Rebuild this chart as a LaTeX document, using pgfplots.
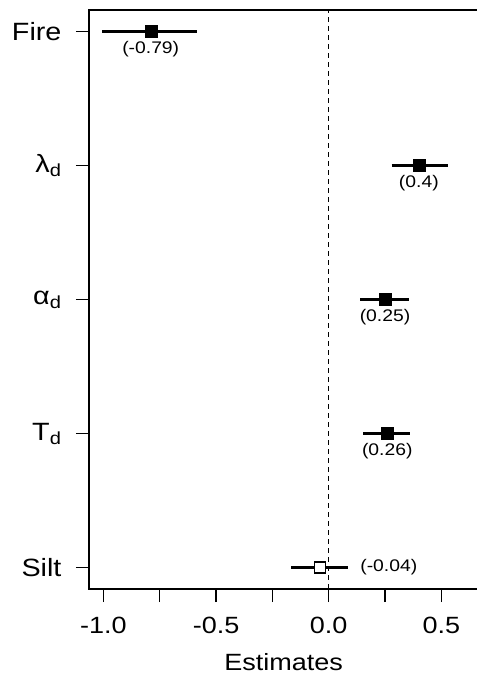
\documentclass[border=0pt]{standalone}
\usepackage{pgfplots}
\pgfplotsset{compat=1.18}
\usepackage{fontspec}
\setmainfont[FakeStretch=1.15]{Liberation Sans}
\begin{document}
\begin{tikzpicture}[x=1pt,y=1pt]
\useasboundingbox (0,0) rectangle (477,678);
\begin{axis}[
  at={(89pt,89pt)}, anchor=south west,
  scale only axis, width=389.3pt, height=578.9pt,
  xmin=-1.064, xmax=0.664, ymin=0.84, ymax=5.16,
  axis line style={line width=1.3pt},
  tick style={line width=1.3pt, black},
  tick align=outside, major tick length=13pt,
  xtick pos=bottom, ytick pos=left,
  xtick={-1,-0.75,-0.5,-0.25,0,0.25,0.5},
  xticklabels={-1.0,,-0.5,,0.0,,0.5},
  ytick={1,2,3,4,5},
  yticklabels={Silt, T\textsubscript{d}, α\textsubscript{d}, λ\textsubscript{d}, Fire},
  xticklabel style={font=\fontsize{23.5}{28}\selectfont, yshift=-12pt},
  yticklabel style={font=\fontsize{25}{30}\selectfont, xshift=-11pt},
  xlabel={Estimates},
  xlabel style={font=\fontsize{23.5}{28}\selectfont, yshift=-12pt},
  clip=false,
]
% zero line
\addplot[black, line width=1.3pt, dash pattern=on 4.5pt off 4.5pt] coordinates {(0,0.84) (0,5.16)};
% confidence intervals
\addplot[black, line width=3pt] coordinates {(-1.006,5) (-0.585,5)};
\addplot[black, line width=3pt] coordinates {(0.279,4) (0.531,4)};
\addplot[black, line width=3pt] coordinates {(0.139,3) (0.358,3)};
\addplot[black, line width=3pt] coordinates {(0.154,2) (0.361,2)};
\addplot[black, line width=3pt] coordinates {(-0.167,1) (0.087,1)};
% point estimates
\addplot[only marks, mark=square*, mark size=6pt, black,
  point meta=explicit symbolic,
  nodes near coords,
  nodes near coords style={anchor=center, yshift=-18pt, inner sep=0pt, font=\fontsize{16.8}{20}\selectfont}]
  coordinates {(-0.79,5) [(-0.79)] (0.40,4) [(0.4)] (0.25,3) [(0.25)] (0.26,2) [(0.26)]};
\addplot[only marks, mark=square*, mark size=5.5pt, mark options={fill=white, draw=black, line width=1.3pt},
  point meta=explicit symbolic,
  nodes near coords,
  nodes near coords style={anchor=west, xshift=40pt, inner sep=0pt, font=\fontsize{16.8}{20}\selectfont}]
  coordinates {(-0.04,1) [(-0.04)]};
\end{axis}
\end{tikzpicture}
\end{document}
